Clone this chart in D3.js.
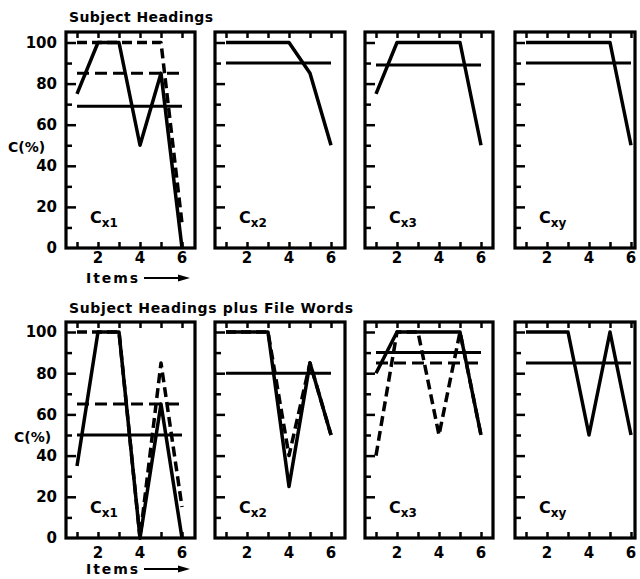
<!DOCTYPE html>
<html><head><meta charset="utf-8">
<script src="https://cdn.jsdelivr.net/npm/d3@7"></script>
<style>body{margin:0;background:#fff}</style></head><body>
<script>
// ---- data ----
const items = [1, 2, 3, 4, 5, 6];
const xTickLabels = [2, 4, 6];
const yMajorTicks = [20, 40, 60, 80, 100];
const yMinorTicks = [10, 30, 50, 70, 90];
const yTickLabels = [0, 20, 40, 60, 80, 100];
const rowTitles = ["Subject Headings", "Subject Headings plus File Words"];
const panelNames = ["x1", "x2", "x3", "xy"];

// Row 1: Subject Headings
const shSolid = [[75,100,100,50,85,0],[100,100,100,100,85,50],[75,100,100,100,100,50],[100,100,100,100,100,50]];
const shDashed = [[100,100,100,100,100,12], null, null, null];
const shSolidMean = [69, 90, 89, 90];
const shDashedMean = [85, null, null, null];

// Row 2: Subject Headings plus File Words
const fwSolid = [[35,100,100,0,65,0],[100,100,100,25,85,50],[80,100,100,100,100,50],[100,100,100,50,100,50]];
const fwDashed = [[100,100,100,0,85,15],[100,100,100,40,85,50],[40,100,100,50,100,50], null];
const fwSolidMean = [50, 80, 90, 85];
const fwDashedMean = [65, null, 85, null];

// ---- layout ----
const W = 640, H = 579;
const font = "'DejaVu Sans', sans-serif";
const panelLeft = [66, 215, 365, 515];
const panelWidth = [129, 130, 128, 120];
const rows = [
  {title: rowTitles[0], titleY: 22, top: 32, zero: 248, hundred: 42.5, tickLabY: 263, itemsY: 287, cX: 8, cY: 147,
   solid: shSolid, dashed: shDashed, sMean: shSolidMean, dMean: shDashedMean},
  {title: rowTitles[1], titleY: 313, top: 322, zero: 538, hundred: 332, tickLabY: 558, itemsY: 578, cX: 14, cY: 437,
   solid: fwSolid, dashed: fwDashed, sMean: fwSolidMean, dMean: fwDashedMean}
];

const svg = d3.select("body").append("svg").attr("width", W).attr("height", H)
  .style("font-family", font).style("font-weight", "bold");

rows.forEach((row, r) => {
  svg.append("text").attr("x", 69).attr("y", row.titleY)
    .attr("font-size", 14).attr("textLength", r === 0 ? 144 : 284).attr("lengthAdjust", "spacing")
    .text(row.title);

  const y = d3.scaleLinear().domain([0, 100]).range([row.zero, row.hundred]);

  panelLeft.forEach((L, p) => {
    const g = svg.append("g");
    const x = d3.scaleLinear().domain([1, 6]).range([L + 11, L + 116]);

    const axL = g.append("g").attr("transform", `translate(${L},0)`)
      .call(d3.axisLeft(y).tickValues(yMajorTicks).tickSize(-10).tickFormat(""));
    const axL2 = g.append("g").attr("transform", `translate(${L},0)`)
      .call(d3.axisLeft(y).tickValues(yMinorTicks).tickSize(-6).tickFormat(""));
    const axB = g.append("g").attr("transform", `translate(0,${row.zero})`)
      .call(d3.axisBottom(x).tickValues(items).tickSize(-6).tickFormat(""));
    const axT = g.append("g").attr("transform", `translate(0,${row.top})`)
      .call(d3.axisTop(x).tickValues(items).tickSize(-6).tickFormat(""));
    [axL, axL2, axB, axT].forEach(a => {
      a.select(".domain").remove();
      a.selectAll("line").attr("stroke", "#000").attr("stroke-width", 2.5);
    });

    g.selectAll(".xl").data(xTickLabels).join("text")
      .attr("x", d => x(d)).attr("y", row.tickLabY).attr("text-anchor", "middle")
      .attr("font-size", 15).text(d => d);

    if (p === 0) {
      g.selectAll(".yl").data(yTickLabels).join("text")
        .attr("x", 57).attr("y", d => y(d)).attr("dy", "0.36em").attr("text-anchor", "end")
        .attr("font-size", 15).text(d => d);
    }

    g.append("rect").attr("x", L).attr("y", row.top).attr("width", panelWidth[p])
      .attr("height", row.zero - row.top).attr("fill", "none").attr("stroke", "#000").attr("stroke-width", 3.2);

    const line = d3.line().x((d, i) => x(items[i])).y(d => y(d));
    const hline = m => `M${x(1)},${y(m)}L${x(6)},${y(m)}`;

    if (row.sMean[p] != null)
      g.append("path").attr("d", hline(row.sMean[p])).attr("fill", "none").attr("stroke", "#000").attr("stroke-width", 3);
    if (row.dMean[p] != null)
      g.append("path").attr("d", hline(row.dMean[p])).attr("fill", "none").attr("stroke", "#000").attr("stroke-width", 3)
        .attr("stroke-dasharray", "12,6");

    if (row.dashed[p])
      g.append("path").attr("d", line(row.dashed[p])).attr("fill", "none").attr("stroke", "#000")
        .attr("stroke-width", 3.5).attr("stroke-dasharray", "10,5").attr("stroke-linejoin", "round");
    g.append("path").attr("d", line(row.solid[p])).attr("fill", "none").attr("stroke", "#000")
      .attr("stroke-width", 3.5).attr("stroke-linejoin", "round");

    const t = g.append("text").attr("x", L + 24).attr("y", row.zero - 25).attr("font-size", 16);
    t.append("tspan").text("C");
    t.append("tspan").attr("font-size", 12).attr("dy", 4).text(panelNames[p]);
  });

  svg.append("text").attr("x", row.cX).attr("y", row.cY).attr("dy", "0.36em").attr("font-size", 14).text("C(%)");
  svg.append("text").attr("x", 86).attr("y", row.itemsY - 4).attr("font-size", 14)
    .attr("textLength", 52).attr("lengthAdjust", "spacing").text("Items");
  svg.append("line").attr("x1", 144).attr("x2", 180).attr("y1", row.itemsY - 9).attr("y2", row.itemsY - 9)
    .attr("stroke", "#000").attr("stroke-width", 2.2);
  svg.append("path").attr("d", `M178,${row.itemsY - 12.5}L190,${row.itemsY - 9}L178,${row.itemsY - 5.5}Z`).attr("fill", "#000");
});
</script>
</body></html>
